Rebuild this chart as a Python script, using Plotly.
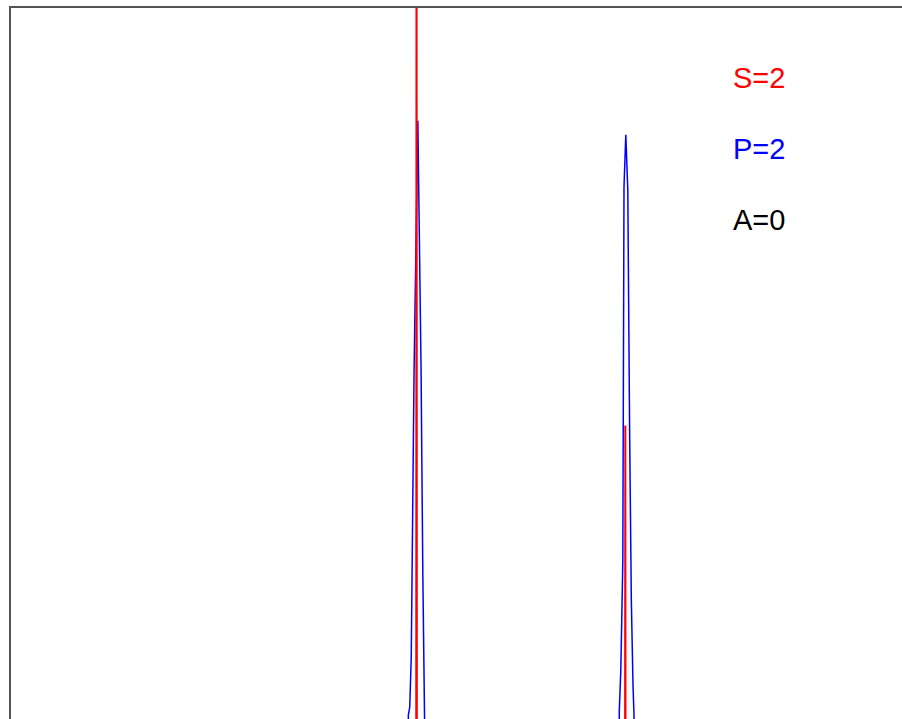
import plotly.graph_objects as go

# Spectral line profiles (x in channel units, intensity in arbitrary units)
blue_x = [380.0, 397.0, 397.8, 399.2, 400.7, 403.5, 407.3, 410.5, 412.3, 413.9, 414.9, 417.5, 430.0,
          595.0, 606.0, 609.0, 610.5, 612.5, 613.7, 615.5, 617.5, 619.3, 621.0, 622.7, 623.7, 626.0, 640.0]
blue_y = [0.0, 0.0, 29.2, 30.0, 35.0, 63.5, 88.7, 64.0, 43.2, 32.7, 29.7, 0.0, 0.0,
          0.0, 0.0, 29.7, 33.7, 44.5, 82.1, 87.3, 81.7, 57.7, 40.9, 32.2, 29.2, 0.0, 0.0]

red_x = [380.0, 405.6, 406.0, 406.4, 595.0, 614.6, 615.0, 615.4, 640.0]
red_y = [0.0, 0.0, 125.0, 0.0, 0.0, 0.0, 58.2, 0.0, 0.0]

labels = ["S=2", "P=2", "A=0"]
label_colors = ["#ff0000", "#0000ff", "#000000"]
label_y = [0.9015, 0.8014, 0.7022]

fig = go.Figure()
fig.add_trace(go.Scatter(x=blue_x, y=blue_y, mode="lines",
                         line=dict(color="#0000ff", width=1.5), hoverinfo="skip"))
fig.add_trace(go.Scatter(x=red_x, y=red_y, mode="lines",
                         line=dict(color="#ff0000", width=2), hoverinfo="skip"))

for t, c, yy in zip(labels, label_colors, label_y):
    fig.add_annotation(x=0.808, y=yy, xref="paper", yref="paper", text=t,
                       showarrow=False, xanchor="left", yanchor="middle",
                       font=dict(family="Liberation Sans, Arial", size=29, color=c))

fig.update_layout(
    width=902, height=719,
    margin=dict(l=11, r=0, t=8, b=0),
    paper_bgcolor="white", plot_bgcolor="white",
    showlegend=False,
    xaxis=dict(range=[0, 892], side="top", showline=True, linecolor="#555555", linewidth=2,
               showgrid=False, zeroline=False, showticklabels=False, ticks=""),
    yaxis=dict(range=[28.8, 100], showline=True, linecolor="#555555", linewidth=2,
               showgrid=False, zeroline=False, showticklabels=False, ticks=""),
)

fig.write_html("out.html")
